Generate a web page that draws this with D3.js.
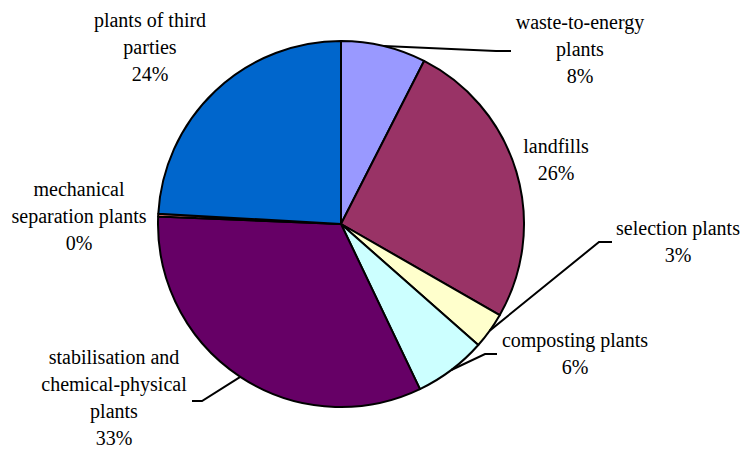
<!DOCTYPE html>
<html>
<head>
<meta charset="utf-8">
<script src="https://cdn.jsdelivr.net/npm/d3@7/dist/d3.min.js"></script>
<style>
  body { margin: 0; background: #fff; }
</style>
</head>
<body>
<svg width="743" height="450"></svg>
<script>
// slice data, clockwise from 12 o'clock
var categories = ["waste-to-energy plants", "landfills", "selection plants", "composting plants",
                  "stabilisation and chemical-physical plants", "mechanical separation plants", "plants of third parties"];
var values = [7.5, 25.8, 3.2, 6.4, 32.75, 0.25, 24.1];
var colors = ["#9999ff", "#993366", "#ffffcc", "#ccffff", "#660066", "#ff8080", "#0066cc"];

// label lines (wrapped like the original)
var labelLines = [
  ["waste-to-energy", "plants"],
  ["landfills"],
  ["selection plants"],
  ["composting plants"],
  ["stabilisation and", "chemical-physical", "plants"],
  ["mechanical", "separation plants"],
  ["plants of third", "parties"]
];

var svg = d3.select("svg"),
    cx = 341, cy = 224, r = 183,
    lineH = 27;

// label placement: centre x, first baseline, leader elbow (if any)
var layout = [
  {x: 580, y: 29,  elbow: [496, 51],  end: [511, 51]},
  {x: 556, y: 153},
  {x: 678, y: 235, elbow: [599, 242], end: [612, 242]},
  {x: 575, y: 347, elbow: [485, 354], end: [497, 354]},
  {x: 114, y: 364, elbow: [202, 401], end: [192, 401]},
  {x: 79,  y: 196},
  {x: 150, y: 27}
];

var total = d3.sum(values);
var data = categories.map(function(c, i) {
  return {name: c, value: values[i], color: colors[i], lines: labelLines[i], pos: layout[i]};
});

var pie = d3.pie().sort(null).value(function(d) { return d.value; });
var arc = d3.arc().innerRadius(0).outerRadius(r);
var arcs = pie(data);

var g = svg.append("g").attr("transform", "translate(" + cx + "," + cy + ")");

g.selectAll("path")
  .data(arcs)
  .enter().append("path")
    .attr("d", arc)
    .attr("fill", function(d) { return d.data.color; })
    .attr("stroke", "#000")
    .attr("stroke-width", 2)
    .attr("stroke-linejoin", "round");

// leader lines
var line = d3.line();
svg.append("g").selectAll("path")
  .data(arcs.filter(function(d) { return d.data.pos.elbow; }))
  .enter().append("path")
    .attr("fill", "none")
    .attr("stroke", "#000")
    .attr("stroke-width", 2)
    .attr("d", function(d) {
      var a = (d.startAngle + d.endAngle) / 2;
      var p0 = [cx + r * Math.sin(a), cy - r * Math.cos(a)];
      return line([p0, d.data.pos.elbow, d.data.pos.end]);
    });

// labels, one text per line
data.forEach(function(d) {
  var all = d.lines.concat([Math.round(d.value / total * 100) + "%"]);
  svg.append("g").selectAll("text")
    .data(all)
    .enter().append("text")
      .attr("font-family", "Liberation Serif")
      .attr("font-size", 20)
      .attr("fill", "#000")
      .attr("text-anchor", "middle")
      .attr("x", d.pos.x)
      .attr("y", function(s, i) { return d.pos.y + i * lineH; })
      .text(function(s) { return s; });
});
</script>
</body>
</html>
